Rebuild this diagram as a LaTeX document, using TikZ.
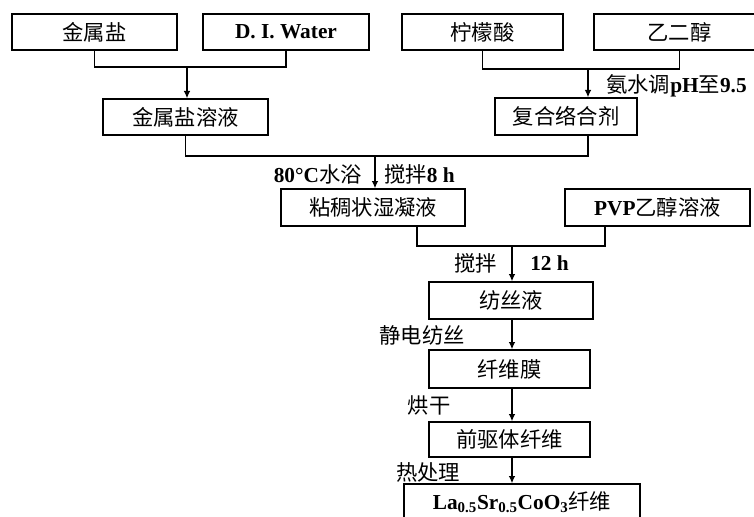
\documentclass[tikz,border=0pt]{standalone}
\usepackage{fontspec}
\setmainfont{Liberation Serif}
\newfontfamily\zhfont{Noto Sans CJK SC}
\newcommand\zhs[1]{{\zhfont\mdseries #1}}
\usetikzlibrary{arrows.meta}
\begin{document}
\begin{tikzpicture}[x=0.75pt,y=-0.75pt,
  txt/.style={font=\fontsize{16}{19}\selectfont\bfseries},
  box/.style={draw, line width=1pt, inner sep=0pt, txt},
  lbl/.style={inner sep=0pt, txt},
  conn/.style={line width=1pt},
  arr/.style={line width=1pt, -{Latex[length=5.5pt,width=5pt]}}]
\clip (0,0) rectangle (754,517);
% boxes
\node[box, minimum width=123.75pt, minimum height=27pt] (a) at (94.5,32) {\zhs{金属盐}};
\node[box, minimum width=124.5pt, minimum height=27pt] (b) at (286,32) {D. I. Water};
\node[box, minimum width=120.75pt, minimum height=27pt] (c) at (482.5,32) {\zhs{柠檬酸}};
\node[box, minimum width=128.25pt, minimum height=27pt] (d) at (679.5,32) {\zhs{乙二醇}};
\node[box, minimum width=123.75pt, minimum height=27pt] (e) at (185.5,117) {\zhs{金属盐溶液}};
\node[box, minimum width=106.5pt, minimum height=27.75pt] (f) at (566,116.5) {\zhs{复合络合剂}};
\node[box, minimum width=138pt, minimum height=27.75pt] (g) at (373,207.5) {\zhs{粘稠状湿凝液}};
\node[box, minimum width=138.75pt, minimum height=27.75pt] (h) at (657.5,207.5) {PVP\zhs{乙醇溶液}};
\node[box, minimum width=123pt, minimum height=27.75pt] (i) at (511,300.5) {\zhs{纺丝液}};
\node[box, minimum width=120.75pt, minimum height=28.5pt] (j) at (509.5,369) {\zhs{纤维膜}};
\node[box, minimum width=120.75pt, minimum height=26.25pt] (k) at (509.5,439.5) {\zhs{前驱体纤维}};
\node[box, minimum width=177pt, minimum height=27pt] (l) at (522,502) {La\textsubscript{0.5}Sr\textsubscript{0.5}CoO\textsubscript{3}\zhs{纤维}};
% junction coordinates
\coordinate (m1) at (187,67);
\coordinate (m2) at (588,69);
\coordinate (m3) at (375,156);
\coordinate (gx) at (417,246);
\coordinate (hx) at (605,246);
\coordinate (m4) at (512,246);
% connectors
\draw[conn] (a.south) |- (m1) -| (b.south);
\draw[arr] (m1) -- (m1 |- e.north);
\draw[conn] (c.south) |- (m2) -| (d.south);
\draw[arr] (m2) -- (m2 |- f.north);
\draw[conn] (e.south) |- (m3) -| (m2 |- f.south);
\draw[arr] (m3) -- (m3 |- g.north);
\draw[conn] (gx |- g.south) |- (hx) -- (hx |- h.south);
\draw[arr] (m4) -- (m4 |- i.north);
\draw[arr] (m4 |- i.south) -- (m4 |- j.north);
\draw[arr] (m4 |- j.south) -- (m4 |- k.north);
\draw[arr] (m4 |- k.south) -- (m4 |- l.north);
% labels
\node[lbl, anchor=west] (t1) at (606,86) {\zhs{氨水调}pH\zhs{至}9.5};
\node[lbl, anchor=east] (t2) at (362,174) {80°C\zhs{水浴}};
\node[lbl, anchor=west] (t3) at (384,174) {\zhs{搅拌}8 h};
\node[lbl, anchor=east] (t4) at (497,263) {\zhs{搅拌}};
\node[lbl, anchor=west] (t5) at (530,263) {12 h};
\node[lbl] (t6) at (422,335) {\zhs{静电纺丝}};
\node[lbl] (t7) at (429,405) {\zhs{烘干}};
\node[lbl] (t8) at (428,472) {\zhs{热处理}};
\end{tikzpicture}
\end{document}
